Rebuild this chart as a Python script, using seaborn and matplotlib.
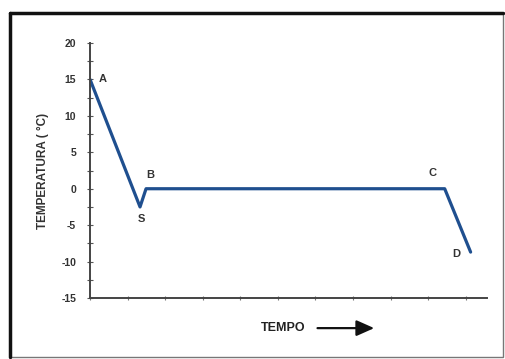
import matplotlib
matplotlib.use("Agg")
import matplotlib.pyplot as plt
import seaborn as sns
import pandas as pd
import numpy as np
from matplotlib.patches import Rectangle, FancyArrowPatch

# data
tempo = [0.0, 1.33, 1.49, 9.44, 10.13]
temperatura = [15.0, -2.5, 0.0, 0.0, -8.7]
punti = ["A", "S", "B", "C", "D"]
y_ticks = [-15, -10, -5, 0, 5, 10, 15, 20]

df = pd.DataFrame({"tempo": tempo, "temperatura": temperatura})

sns.set_style("white")
plt.rcParams['font.family'] = ['Liberation Sans', 'DejaVu Sans']
plt.rcParams['axes.unicode_minus'] = False

fig = plt.figure(figsize=(5.06, 3.59), dpi=100)
ax = fig.add_axes([0.178, 0.170, 0.784, 0.710])

sns.lineplot(data=df, x="tempo", y="temperatura", ax=ax,
             color="#1f4f8f", linewidth=2.3, sort=False)

ax.set_xlim(0, 10.56)
ax.set_ylim(-15, 20)
ax.set_yticks(y_ticks)
ax.set_yticks(np.arange(-15, 20.1, 2.5), minor=True)
ax.set_xticks(np.arange(0, 11, 1))
ax.set_xticklabels([])
ax.tick_params(axis="y", which="both", direction="inout", length=4,
               width=0.8, color="#555555", labelsize=7.5, labelcolor="#333333",
               left=True, pad=8)
ax.tick_params(axis="x", which="both", direction="inout", length=3,
               width=0.8, color="#777777", bottom=True)
for lab in ax.get_yticklabels():
    lab.set_fontweight("bold")

for side in ["top", "right"]:
    ax.spines[side].set_visible(False)
for side in ["left", "bottom"]:
    ax.spines[side].set_color("#444444")
    ax.spines[side].set_linewidth(1.4)

ax.set_xlabel("")
ax.set_ylabel("TEMPERATURA ( °C)", fontsize=8.5, fontweight="bold",
              color="#333333", labelpad=9)

# point labels
offsets = {"A": (0.24, 0.0), "S": (-0.05, -1.6), "B": (0.0, 1.9),
           "C": (-0.42, 2.2), "D": (-0.5, -0.3)}
for x, y, p in zip(tempo, temperatura, punti):
    dx, dy = offsets[p]
    ax.text(x + dx, y + dy, p, fontsize=8, fontweight="bold",
            color="#333333", ha="left", va="center")

# TEMPO with arrow
fig.text(0.515, 0.086, "TEMPO", fontsize=9, fontweight="bold",
         color="#222222", ha="left", va="center")
fig.add_artist(FancyArrowPatch(
    (0.622, 0.086), (0.745, 0.086), transform=fig.transFigure,
    arrowstyle="-|>,head_length=0.9,head_width=0.4", color="#111111",
    linewidth=1.6, mutation_scale=12))

# outer frame
fig.add_artist(Rectangle((0.020, 0.006), 0.974, 0.957, transform=fig.transFigure,
                         fill=False, edgecolor="#777777", linewidth=1.0))
fig.add_artist(plt.Line2D([0.020, 0.020], [0.006, 0.963], transform=fig.transFigure,
                          color="#111111", linewidth=2.5))
fig.add_artist(plt.Line2D([0.020, 0.994], [0.963, 0.963], transform=fig.transFigure,
                          color="#111111", linewidth=2.5))

fig.savefig("out.png", dpi=100)
